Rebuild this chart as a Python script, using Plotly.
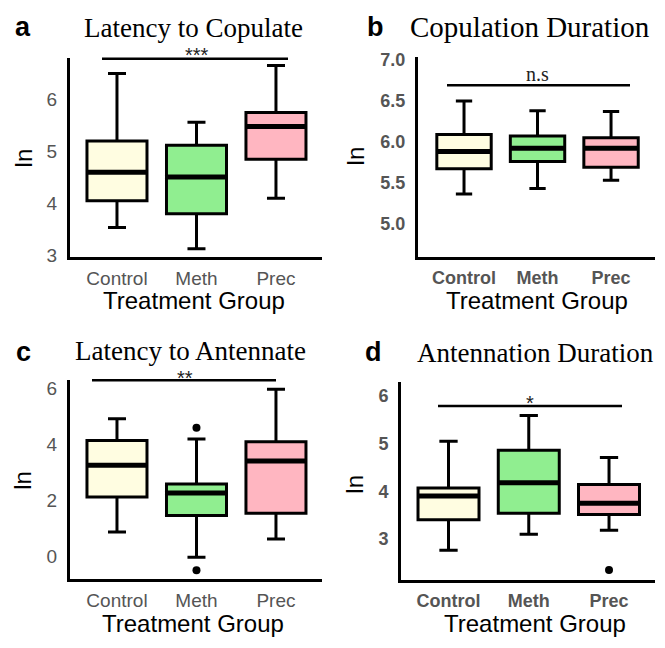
import plotly.graph_objects as go

W, H = 665, 648

groups = ["Control", "Meth", "Prec"]
colors = ["#FFFDE1", "#90EE90", "#FFB6C1"]

# Panel a: Latency to Copulate
a_q1 = [4.04, 3.79, 4.84]
a_med = [4.59, 4.50, 5.47]
a_q3 = [5.19, 5.11, 5.74]
a_lo = [3.53, 3.12, 4.09]
a_hi = [6.49, 5.55, 6.64]
a_out_x = []
a_out_y = []

# Panel b: Copulation Duration
b_q1 = [5.67, 5.76, 5.69]
b_med = [5.88, 5.92, 5.92]
b_q3 = [6.09, 6.07, 6.05]
b_lo = [5.36, 5.43, 5.53]
b_hi = [6.50, 6.38, 6.37]
b_out_x = []
b_out_y = []

# Panel c: Latency to Antennate
c_q1 = [2.12, 1.46, 1.54]
c_med = [3.26, 2.27, 3.41]
c_q3 = [4.14, 2.59, 4.10]
c_lo = [0.87, -0.03, 0.62]
c_hi = [4.92, 4.20, 5.97]
c_out_x = ["Meth", "Meth"]
c_out_y = [4.60, -0.49]

# Panel d: Antennation Duration
d_q1 = [3.40, 3.54, 3.51]
d_med = [3.90, 4.18, 3.75]
d_q3 = [4.07, 4.86, 4.14]
d_lo = [2.76, 3.10, 3.18]
d_hi = [5.05, 5.59, 4.71]
d_out_x = ["Prec"]
d_out_y = [2.35]

def px(x):
    return x / W

def py(y):
    return 1 - y / H

panels = [
    dict(key="a", title="Latency to Copulate", tsize=27, sig="***",
         sigfont="Liberation Sans, Arial", sigsize=20,
         q1=a_q1, med=a_med, q3=a_q3, lo=a_lo, hi=a_hi, ox=a_out_x, oy=a_out_y,
         dom_x=(70, 322), dom_y=(53, 257), xr=(-0.591, 2.579), yr=(2.96, 6.79),
         bw=0.755, yticks=[3, 4, 5, 6], ytext=["3", "4", "5", "6"], bold=False,
         letter=(23, 21), tpos=(193, 23), lnpos=(23, 156), xtpos=(194, 301),
         line=(102, 288, 54), sigpos=(197, 50)),
    dict(key="b", title="Copulation Duration", tsize=29, sig="n.s",
         sigfont="Liberation Serif, Times New Roman", sigsize=20,
         q1=b_q1, med=b_med, q3=b_q3, lo=b_lo, hi=b_hi, ox=b_out_x, oy=b_out_y,
         dom_x=(418, 655), dom_y=(52, 257), xr=(-0.626, 2.598), yr=(4.59, 7.04),
         bw=0.74, yticks=[5.0, 5.5, 6.0, 6.5, 7.0],
         ytext=["5.0", "5.5", "6.0", "6.5", "7.0"], bold=True,
         letter=(375, 21), tpos=(530, 22), lnpos=(355, 154), xtpos=(537, 301),
         line=(447, 630, 81), sigpos=(537, 70)),
    dict(key="c", title="Latency to Antennate", tsize=27, sig="**",
         sigfont="Liberation Sans, Arial", sigsize=20,
         q1=c_q1, med=c_med, q3=c_q3, lo=c_lo, hi=c_hi, ox=c_out_x, oy=c_out_y,
         dom_x=(70, 322), dom_y=(383, 587), xr=(-0.591, 2.579), yr=(-0.82, 6.30),
         bw=0.755, yticks=[0, 2, 4, 6], ytext=["0", "2", "4", "6"], bold=False,
         letter=(23, 354), tpos=(191, 353), lnpos=(23, 486), xtpos=(193, 632),
         line=(92, 276, 383), sigpos=(185, 381)),
    dict(key="d", title="Antennation Duration", tsize=27, sig="*",
         sigfont="Liberation Sans, Arial", sigsize=20,
         q1=d_q1, med=d_med, q3=d_q3, lo=d_lo, hi=d_hi, ox=d_out_x, oy=d_out_y,
         dom_x=(401, 655), dom_y=(385, 588), xr=(-0.592, 2.573), yr=(2.13, 6.29),
         bw=0.76, yticks=[3, 4, 5, 6], ytext=["3", "4", "5", "6"], bold=True,
         letter=(373, 354), tpos=(535, 355), lnpos=(355, 490), xtpos=(535, 632),
         line=(438, 622, 409.5), sigpos=(530, 406)),
]

fig = go.Figure()
annotations = []
shapes = []

for n, p in enumerate(panels, start=1):
    xa = "x" if n == 1 else f"x{n}"
    ya = "y" if n == 1 else f"y{n}"
    pos = list(range(len(groups)))
    for i, g in enumerate(groups):
        fig.add_trace(go.Box(
            x=[pos[i]], q1=[p["q1"][i]], median=[p["med"][i]], q3=[p["q3"][i]],
            lowerfence=[p["lo"][i]], upperfence=[p["hi"][i]],
            fillcolor=colors[i], line=dict(color="black", width=3),
            width=p["bw"], whiskerwidth=0.3, boxpoints=False,
            xaxis=xa, yaxis=ya, showlegend=False, hoverinfo="skip"))
        # thicker median line
        fig.add_trace(go.Scatter(
            x=[pos[i] - p["bw"] / 2, pos[i] + p["bw"] / 2],
            y=[p["med"][i], p["med"][i]], mode="lines",
            line=dict(color="black", width=5), xaxis=xa, yaxis=ya,
            showlegend=False, hoverinfo="skip"))
    if p["ox"]:
        fig.add_trace(go.Scatter(
            x=[groups.index(g) for g in p["ox"]], y=p["oy"], mode="markers",
            marker=dict(color="black", size=8), xaxis=xa, yaxis=ya,
            showlegend=False, hoverinfo="skip", cliponaxis=False))

    tickfont = dict(family="Liberation Sans, Arial", size=18 if p["bold"] else 19,
                    color="#555555", weight="bold" if p["bold"] else "normal")
    axkey = "xaxis" if n == 1 else f"xaxis{n}"
    aykey = "yaxis" if n == 1 else f"yaxis{n}"
    fig.layout[axkey] = dict(
        domain=[px(p["dom_x"][0]), px(p["dom_x"][1])], range=list(p["xr"]),
        anchor=ya, tickvals=pos, ticktext=groups, tickfont=tickfont,
        showline=True, linecolor="black", linewidth=3, showgrid=False,
        zeroline=False, ticks="outside", ticklen=2, tickcolor="rgba(0,0,0,0)",
        fixedrange=True)
    fig.layout[aykey] = dict(
        domain=[py(p["dom_y"][1]), py(p["dom_y"][0])], range=list(p["yr"]),
        anchor=xa, tickvals=p["yticks"], ticktext=p["ytext"], tickfont=tickfont,
        showline=True, linecolor="black", linewidth=3, showgrid=False,
        zeroline=False, ticks="outside", ticklen=6, tickcolor="rgba(0,0,0,0)",
        fixedrange=True)

    # panel letter
    annotations.append(dict(x=px(p["letter"][0]), y=py(p["letter"][1]), xref="paper",
                            yref="paper", text=p["key"], showarrow=False,
                            font=dict(family="Liberation Sans, Arial", size=27,
                                      color="black", weight="bold"),
                            xanchor="center", yanchor="middle"))
    # title
    annotations.append(dict(x=px(p["tpos"][0]), y=py(p["tpos"][1]), xref="paper",
                            yref="paper", text=p["title"], showarrow=False,
                            font=dict(family="Liberation Serif, Times New Roman",
                                      size=p["tsize"], color="black"),
                            xanchor="center", yanchor="middle"))
    # y title
    annotations.append(dict(x=px(p["lnpos"][0]), y=py(p["lnpos"][1]), xref="paper",
                            yref="paper", text="ln", showarrow=False, textangle=-90,
                            font=dict(family="Liberation Sans, Arial", size=24,
                                      color="black"),
                            xanchor="center", yanchor="middle"))
    # x title
    annotations.append(dict(x=px(p["xtpos"][0]), y=py(p["xtpos"][1]), xref="paper",
                            yref="paper", text="Treatment Group", showarrow=False,
                            font=dict(family="Liberation Sans, Arial", size=24,
                                      color="black"),
                            xanchor="center", yanchor="middle"))
    # significance line + label
    x0, x1, yl = p["line"]
    shapes.append(dict(type="line", xref="paper", yref="paper",
                       x0=px(x0), x1=px(x1), y0=py(yl), y1=py(yl),
                       line=dict(color="black", width=2.5)))
    annotations.append(dict(x=px(p["sigpos"][0]), y=py(p["sigpos"][1]), xref="paper",
                            yref="paper", text=p["sig"], showarrow=False,
                            font=dict(family=p["sigfont"], size=p["sigsize"],
                                      color="#222222"),
                            xanchor="center", yanchor="middle"))

fig.update_layout(
    width=W, height=H, margin=dict(l=0, r=0, t=0, b=0),
    paper_bgcolor="white", plot_bgcolor="white", boxmode="overlay",
    annotations=annotations, shapes=shapes, showlegend=False)

fig.write_html("out.html", config={"displayModeBar": False})
